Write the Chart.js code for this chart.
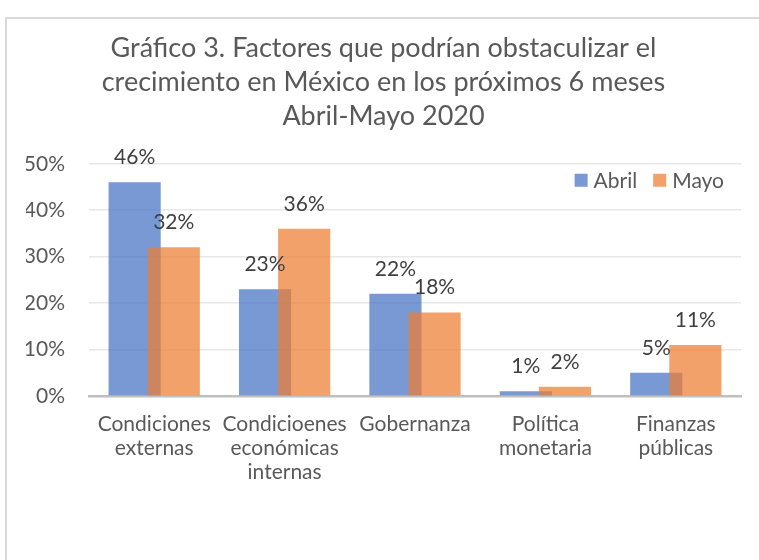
<!DOCTYPE html>
<html>
<head>
<meta charset="utf-8">
<script src="https://cdn.jsdelivr.net/npm/chart.js@4"></script>
<style>
  html, body { margin: 0; padding: 0; background: #fff; overflow: hidden; }
  #box {
    position: absolute; left: 5px; top: 17px; width: 766px; height: 543px;
    border-left: 2px solid #d9d9d9; border-top: 2px solid #d9d9d9;
  }
</style>
</head>
<body>
<div id="box"><canvas id="chart"></canvas></div>
<script>
const categorias = [
  ['Condiciones', 'externas'],
  ['Condicioenes', 'económicas', 'internas'],
  ['Gobernanza'],
  ['Política', 'monetaria'],
  ['Finanzas', 'públicas']
];
const abril = [46, 23, 22, 1, 5];
const mayo = [32, 36, 18, 2, 11];
const ticksY = [0, 10, 20, 30, 40, 50];

const FONT = 'Lato, "Open Sans", sans-serif';
const TEXTO = '#595959';

// Mayo va encima de Abril (como en Excel), etiquetas de valor y leyenda dentro del área
const barrasPlugin = {
  id: 'barras',
  beforeDatasetDraw(chart, args) {
    if (args.index === 1 && !chart._dibujandoMayo) return false;
  },
  afterDatasetsDraw(chart) {
    const ctx = chart.ctx;
    chart._dibujandoMayo = true;
    ctx.save();
    chart.getDatasetMeta(1).controller.draw();
    ctx.restore();
    chart._dibujandoMayo = false;

    ctx.save();
    ctx.font = '21px ' + FONT;
    ctx.fillStyle = '#404040';
    ctx.textAlign = 'center';
    ctx.textBaseline = 'alphabetic';
    chart.data.datasets.forEach((ds, i) => {
      chart.getDatasetMeta(i).data.forEach((bar, j) => {
        ctx.fillText(ds.data[j] + '%', bar.x, bar.y - 18);
      });
    });

    // leyenda
    const area = chart.chartArea;
    const cy = area.top + 16.5;
    let x = area.right - 17;
    ctx.textAlign = 'right';
    ctx.textBaseline = 'middle';
    const items = chart.data.datasets.slice().reverse();
    items.forEach(ds => {
      const w = ctx.measureText(ds.label).width;
      ctx.fillStyle = TEXTO;
      ctx.fillText(ds.label, x, cy + 1);
      x -= w + 6 + 13;
      ctx.fillStyle = ds.backgroundColor;
      ctx.fillRect(x, cy - 6.5, 13, 13);
      x -= 16;
    });
    ctx.restore();
  }
};

new Chart(document.getElementById('chart'), {
  type: 'bar',
  data: {
    labels: categorias,
    datasets: [
      { label: 'Abril', data: abril, backgroundColor: 'rgba(68,114,196,0.72)',
        categoryPercentage: 0.6, barPercentage: 1.333 },
      { label: 'Mayo', data: mayo, backgroundColor: 'rgba(237,125,49,0.72)',
        categoryPercentage: 0.6, barPercentage: 1.333 }
    ]
  },
  options: {
    responsive: true,
    maintainAspectRatio: false,
    animation: false,
    layout: { padding: { left: 19, right: 32, top: 0, bottom: 66 } },
    scales: {
      x: {
        grid: { display: false },
        border: { color: '#bfbfbf', width: 2.5 },
        ticks: {
          color: TEXTO, font: { family: FONT, size: 21, lineHeight: 1.14 },
          padding: 8, maxRotation: 0, autoSkip: false
        },
        afterFit: axis => {
          axis.height = 100;
          axis.paddingLeft = 0;
          axis.paddingRight = 0;
        }
      },
      y: {
        min: 0, max: 50,
        afterBuildTicks: axis => { axis.ticks = ticksY.map(v => ({ value: v })); },
        grid: { color: '#e8e8e8', lineWidth: 1.5, drawTicks: false },
        border: { display: false },
        ticks: {
          color: TEXTO, font: { family: FONT, size: 21 }, padding: 24,
          callback: v => v + '%'
        },
        afterFit: axis => { axis.width = 63; }
      }
    },
    plugins: {
      title: {
        display: true,
        text: ['Gráfico 3. Factores que podrían obstaculizar el',
               'crecimiento en México en los próximos 6 meses',
               'Abril-Mayo 2020'],
        color: TEXTO,
        font: { family: FONT, size: 27, weight: 'normal', lineHeight: 1.25 },
        padding: { top: 12.5, bottom: 31 }
      },
      legend: { display: false },
      tooltip: { enabled: false }
    }
  },
  plugins: [barrasPlugin]
});
</script>
</body>
</html>
